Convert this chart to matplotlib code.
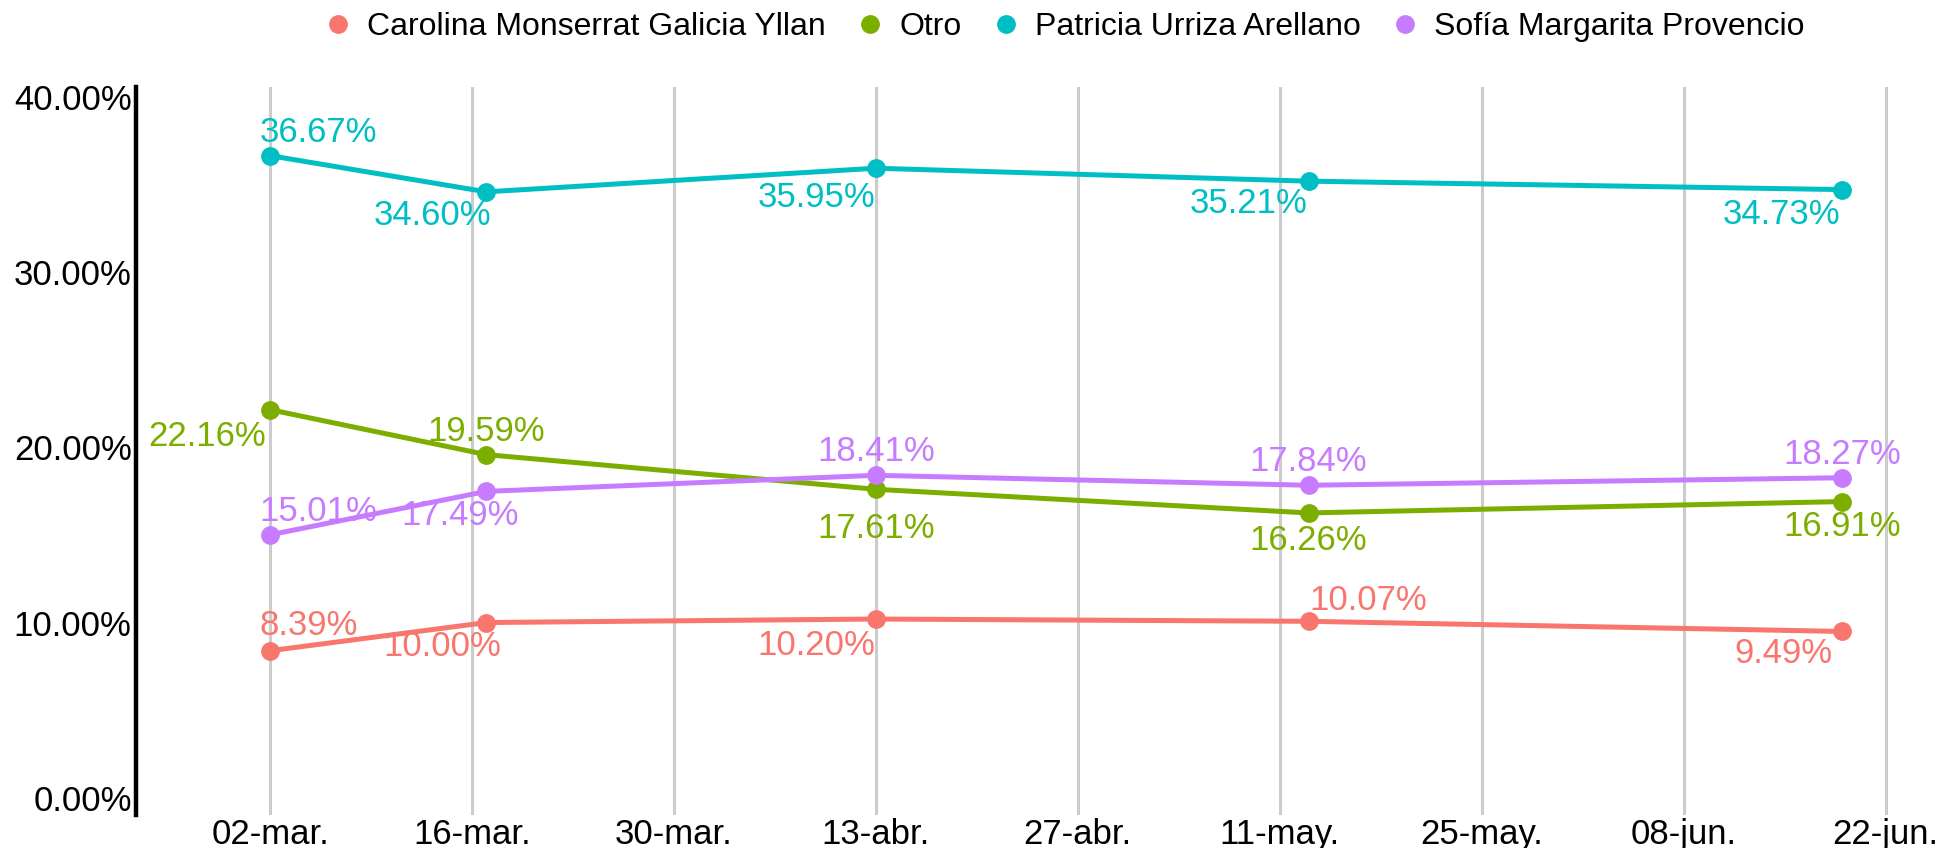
import numpy as np
import pandas as pd
import matplotlib
matplotlib.use("Agg")
import matplotlib.pyplot as plt
import matplotlib.dates as mdates

plt.rcParams['font.family'] = ['Liberation Sans', 'DejaVu Sans']

fechas = pd.to_datetime(['2024-03-02', '2024-03-17', '2024-04-13', '2024-05-13', '2024-06-19'])

carolina = [8.39, 10.00, 10.20, 10.07, 9.49]
otro = [22.16, 19.59, 17.61, 16.26, 16.91]
patricia = [36.67, 34.60, 35.95, 35.21, 34.73]
sofia = [15.01, 17.49, 18.41, 17.84, 18.27]

nombres = ['Carolina Monserrat Galicia Yllan', 'Otro', 'Patricia Urriza Arellano', 'Sofía Margarita Provencio']
colores = ['#F8766D', '#7CAE00', '#00BFC4', '#C77CFF']

tick_fechas = pd.to_datetime(['2024-03-02', '2024-03-16', '2024-03-30', '2024-04-13', '2024-04-27',
                              '2024-05-11', '2024-05-25', '2024-06-08', '2024-06-22'])
tick_labels = ['02-mar.', '16-mar.', '30-mar.', '13-abr.', '27-abr.', '11-may.', '25-may.', '08-jun.', '22-jun.']

# label offsets (points) from each point, in the order of the series
offsets = [
    [(28, 18), (-32, -17), (-43, -19), (43, 15), (-42, -16)],
    [(-45, -19), (0, 17), (0, -28), (0, -20), (0, -18)],
    [(35, 17), (-39, -17), (-43, -21), (-43, -16), (-44, -18)],
    [(35, 17), (-19, -17), (0, 17), (0, 17), (0, 17)],
]

series = [carolina, otro, patricia, sofia]

fig = plt.figure(figsize=(19.41, 8.48), dpi=100)
ax = fig.add_axes([0.070, 0.039, 0.920, 0.858])

for serie, nombre, color, offs in zip(series, nombres, colores, offsets):
    ax.plot(fechas, serie, color=color, lw=3.6, marker='o', markersize=12.5,
            label=nombre, solid_capstyle='round', zorder=3)
    for f, v, (dx, dy) in zip(fechas, serie, offs):
        ax.annotate(f'{v:.2f}%', (f, v), xytext=(dx, dy), textcoords='offset points',
                    ha='center', va='center', color=color, fontsize=25, zorder=4)

x0 = mdates.date2num(fechas[0])
ax.set_xlim(x0 - 9.3, x0 + 114.5)
ax.set_ylim(-0.99, 40.57)

ax.set_xticks(tick_fechas)
ax.set_xticklabels(tick_labels)
ax.set_yticks([0, 10, 20, 30, 40])
ax.set_yticklabels([f'{v:.2f}%' for v in [0, 10, 20, 30, 40]])
ax.tick_params(axis='both', length=0, labelsize=25, colors='black')
ax.tick_params(axis='x', pad=2)
ax.tick_params(axis='y', pad=3)

ax.grid(axis='x', color='#CCCCCC', lw=2.2)
ax.set_axisbelow(True)
for s in ['top', 'right', 'bottom']:
    ax.spines[s].set_visible(False)
ax.spines['left'].set_linewidth(3.2)

handles = [plt.Line2D([], [], ls='none', marker='o', markersize=12.5, color=c) for c in colores]
fig.legend(handles, nombres, loc='center', bbox_to_anchor=(0.547, 0.968), ncol=4, frameon=False,
           fontsize=23, handletextpad=0.3, columnspacing=0.8, handlelength=1.2)

fig.savefig('out.png', dpi=100)
